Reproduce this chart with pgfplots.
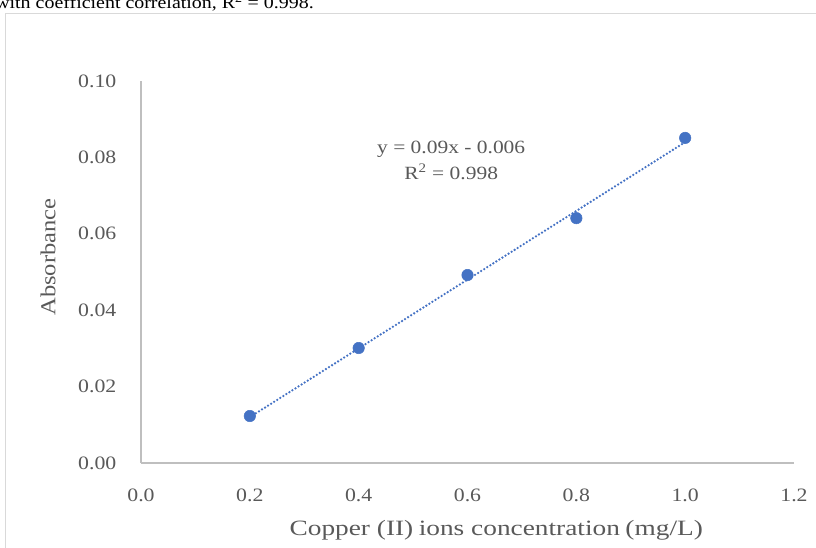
\documentclass[border=0pt]{standalone}
\usepackage{fontspec}
\setmainfont{Liberation Serif}[FakeStretch=1.15]
\newfontfamily\labelfont{Liberation Serif}[FakeStretch=1.25]
\usepackage{pgfplots}
\pgfplotsset{compat=1.18}
\definecolor{ptblue}{HTML}{4472C4}
\definecolor{txtgray}{HTML}{595959}
\definecolor{axgray}{HTML}{BFBFBF}
\definecolor{bordergray}{HTML}{D9D9D9}
\begin{document}
\begin{tikzpicture}[x=0.75pt,y=0.75pt]
\useasboundingbox (0,0) rectangle (816,548);
\begin{scope}
\clip (0,0) rectangle (816,548);
\draw[bordergray, line width=1.2pt] (5.5,534.5) rectangle (840,-20);
\node[anchor=base west, font=\fontsize{13}{15}\selectfont, inner sep=0] at (-5,539.5) {with coefficient correlation, R\textsuperscript{2} = 0.998.};
\end{scope}
\begin{axis}[
  at={(141pt*0.75,85pt*0.75)}, anchor=origin, scale only axis,
  width=489.75pt, height=286.5pt,
  xmin=0, xmax=1.2, ymin=0, ymax=0.1,
  axis x line=bottom, axis y line=left,
  axis line style={-, axgray, line width=0.9pt},
  major tick length=0pt,
  xtick={0,0.2,0.4,0.6,0.8,1.0,1.2},
  ytick={0,0.02,0.04,0.06,0.08,0.1},
  tick label style={font=\fontsize{14.2}{16}\selectfont, text=txtgray},
  xticklabel style={anchor=center, yshift=-24pt, /pgf/number format/.cd, fixed, fixed zerofill, precision=1, assume math mode=true},
  yticklabel style={anchor=east, xshift=-15pt, /pgf/number format/.cd, fixed, fixed zerofill, precision=2, assume math mode=true},
  xlabel={Copper (II)\hspace{-1pt} ions concentration\hspace{-1pt} (mg/L)},
  ylabel={Absorbance},
  xlabel style={font=\labelfont\fontsize{16.4}{20}\selectfont, text=txtgray, at={(axis description cs:0.544,-0.1754)}, anchor=center},
  ylabel style={font=\fontsize{16}{18}\selectfont, text=txtgray, at={(axis description cs:-0.1424,0.539)}, anchor=center},
  clip=false,
]
\addplot[ptblue, line width=1.9pt, line cap=round, dash pattern=on 0pt off 2.7pt] coordinates {(0.2,0.012) (1.0,0.084)};
\addplot[only marks, mark=*, mark size=4.3pt, ptblue, mark options={fill=ptblue, draw=ptblue}] coordinates {
(0.2,0.0123) (0.4,0.0301) (0.6,0.0492) (0.8,0.0641) (1.0,0.0851)};
\node[align=center, font=\fontsize{14}{19.5}\selectfont, text=txtgray] at (axis cs:0.570,0.0792) {y = 0.09x - 0.006\\R\textsuperscript{2} = 0.998};
\end{axis}
\end{tikzpicture}
\end{document}
